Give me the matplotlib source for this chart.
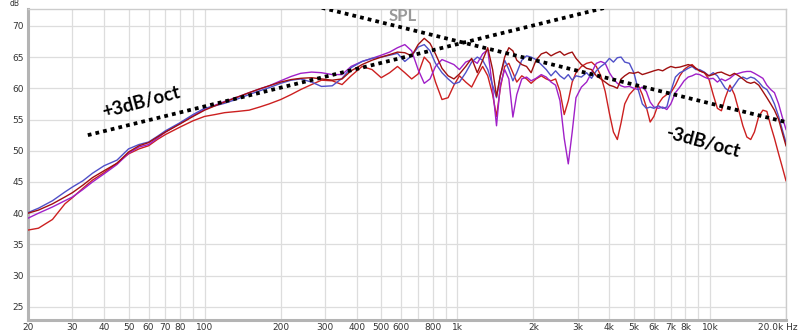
import numpy as np
import matplotlib
matplotlib.use("Agg")
import matplotlib.pyplot as plt

# frequency grid (Hz) shared by all four measurements
FREQ = [20, 22, 25, 28, 30, 33, 36, 40, 45, 50,
        55, 60, 65, 70, 80, 90, 100, 110, 120, 135,
        150, 165, 180, 200, 220, 240, 265, 290, 320, 350,
        380, 420, 460, 500, 540, 580, 620, 660, 700, 740,
        780, 820, 870, 920, 970, 1020, 1080, 1140, 1200, 1260,
        1320, 1380, 1430, 1480, 1540, 1600, 1660, 1720, 1800, 1880,
        1960, 2050, 2150, 2250, 2350, 2450, 2550, 2650, 2750, 2850,
        2950, 3100, 3250, 3400, 3550, 3700, 3850, 4000, 4150, 4300,
        4450, 4600, 4800, 5000, 5200, 5400, 5600, 5800, 6000, 6250,
        6500, 6750, 7000, 7300, 7600, 7900, 8200, 8500, 8800, 9100,
        9500, 9900, 10300, 10700, 11100, 11500, 12000, 12500, 13000, 13500,
        14000, 14500, 15000, 15600, 16200, 16800, 17400, 18000, 18700, 19300,
        20000]

BLUE = [40.1, 40.8, 42.0, 43.4, 44.2, 45.2, 46.4, 47.6, 48.5, 50.3,
        51.0, 51.4, 52.3, 53.2, 54.5, 55.8, 56.8, 57.2, 57.6, 58.3,
        59.0, 59.6, 60.1, 60.8, 61.3, 61.5, 61.0, 60.3, 60.4, 61.6,
        63.3, 64.3, 64.8, 65.0, 65.3, 65.6, 64.3, 65.2, 66.6, 67.0,
        66.0, 64.0, 62.5, 61.5, 60.7, 61.0, 62.5, 64.2, 65.0, 64.5,
        63.0, 60.5, 58.5, 62.0, 64.5, 63.0, 61.2, 62.5, 64.5, 65.2,
        65.0, 64.6, 63.8, 63.0, 62.0, 62.8, 62.0, 61.5, 62.2, 61.3,
        62.0, 61.8, 62.5, 61.6, 62.8, 63.5, 64.0, 64.8, 64.2, 64.9,
        65.0, 64.2, 64.0, 62.5, 59.8, 57.5, 56.8, 57.0, 56.8, 57.2,
        56.8, 57.0, 59.5, 61.8, 62.5, 62.8, 63.2, 63.5, 63.0, 63.0,
        62.6, 62.0, 62.5, 62.0, 61.0, 60.0, 59.5, 60.5, 61.5, 61.8,
        61.5, 61.8, 61.6, 61.0, 60.2, 59.8, 58.8, 57.5, 55.5, 53.5,
        51.3]

PURPLE = [39.2, 40.0, 41.0, 42.0, 42.6, 43.8, 45.0, 46.3, 47.8, 49.6,
          50.6, 51.0, 52.0, 53.0, 54.4, 55.6, 56.6, 57.3, 57.9, 58.6,
          59.3, 59.9, 60.4, 61.2, 61.9, 62.4, 62.6, 62.5, 62.2, 62.2,
          63.5, 64.3, 64.8, 65.3, 65.8, 66.5, 67.0, 66.0, 63.0, 60.8,
          61.5, 63.5, 64.6, 64.2, 63.8, 63.0, 64.2, 64.6, 64.0, 65.5,
          66.2, 60.0, 54.0, 60.5, 63.0, 61.5, 55.4, 59.0, 61.5, 61.8,
          61.2, 61.6, 62.2, 61.8, 61.0, 60.5, 58.0, 52.0, 47.9, 53.0,
          58.5, 60.2, 61.0, 62.5, 64.0, 64.3, 64.0, 62.5, 61.5, 60.8,
          60.4, 60.2, 60.3, 60.0, 59.8, 60.2, 59.5, 57.8, 57.0, 56.8,
          57.0, 56.6, 57.5, 59.3, 60.2, 61.2, 61.8, 62.0, 62.3, 62.2,
          61.8, 61.5, 61.6, 61.0, 61.5, 61.2, 61.6, 62.2, 62.4, 62.6,
          62.7, 62.7, 62.4, 62.0, 61.6, 60.5, 59.8, 59.3, 57.5, 55.5,
          53.4]

RED_DARK = [40.0, 40.5, 41.5, 42.6, 43.3, 44.5, 45.7, 46.8, 48.0, 49.8,
            50.8, 51.3, 52.2, 53.0, 54.3, 55.5, 56.5, 57.2, 57.8, 58.6,
            59.3, 59.9, 60.4, 61.0, 61.4, 61.6, 61.7, 61.5, 61.3, 61.5,
            62.8, 63.8, 64.5, 65.0, 65.4, 65.8, 65.7, 65.2, 67.0, 68.0,
            67.2, 65.5, 63.2, 62.0, 61.5, 62.3, 63.5, 64.8, 62.5, 64.5,
            66.5, 63.0, 58.7, 62.0, 65.0, 66.5, 66.0, 64.5, 63.8, 63.5,
            62.5, 64.5, 65.5, 65.8, 65.2, 65.6, 65.9, 65.3, 65.6, 65.8,
            64.8, 63.8, 63.2, 63.0, 62.0, 61.5, 61.0, 60.5, 60.3, 60.0,
            61.5, 62.0, 62.5, 62.4, 62.6, 62.2, 62.4, 62.6, 62.8, 63.0,
            62.8, 63.2, 63.5, 63.3, 63.4, 63.6, 63.8, 63.6, 63.2, 62.8,
            62.5, 62.0, 62.2, 62.5, 62.6, 62.3, 62.0, 62.4, 62.0, 61.5,
            61.0, 60.8, 61.0, 60.5, 59.5, 58.5, 57.5, 56.5, 55.0, 53.0,
            50.8]

RED = [37.3, 37.6, 39.0, 41.5, 42.5, 44.0, 45.3, 46.5, 48.0, 49.5,
       50.3, 50.8, 51.8, 52.6, 53.8, 54.8, 55.5, 55.8, 56.1, 56.3,
       56.5, 57.0, 57.5, 58.2, 59.0, 59.8, 60.6, 61.3, 61.2, 60.6,
       62.0, 63.5, 63.0, 61.7, 62.5, 63.5, 62.5, 61.5, 62.3, 65.0,
       64.0, 61.0, 58.2, 58.5, 60.5, 62.0, 61.0, 60.2, 62.0, 63.5,
       62.0, 59.0, 55.5, 60.0, 63.5, 64.0, 62.5, 61.0, 62.0, 61.5,
       60.8, 61.5, 62.0, 61.5, 61.2, 61.5, 59.5, 55.8, 58.0, 61.0,
       62.5, 63.5, 64.0, 64.2, 63.5, 62.0, 59.5, 56.0, 53.0, 51.8,
       54.5, 57.5, 59.0, 59.8, 60.5, 59.0, 57.0, 54.6, 55.5, 57.5,
       58.5, 59.0, 59.3, 60.5, 62.0, 63.0, 63.5, 63.8, 63.2, 62.8,
       62.5, 61.5, 59.0, 56.8, 56.4, 58.5, 60.5, 59.0, 56.5, 54.0,
       52.2, 51.8, 53.0, 55.5, 56.5, 56.3, 54.0, 52.0, 49.5, 47.5,
       45.2]

# slope guides: (start Hz, start dB, end Hz, slope dB/oct)
SLOPE_UP = (34.5, 52.5, 3840, 3.0)
SLOPE_DOWN = (291, 72.9, 20000, -3.0)

GRID_FREQ = [20, 30, 40, 50, 60, 70, 80, 90, 100, 200, 300, 400, 500, 600,
             700, 800, 900, 1000, 2000, 3000, 4000, 5000, 6000, 7000, 8000,
             9000, 10000, 20000]
GRID_LABELS = ["20", "30", "40", "50", "60", "70", "80", "", "100", "200",
               "300", "400", "500", "600", "", "800", "", "1k", "2k", "3k",
               "4k", "5k", "6k", "7k", "8k", "", "10k", ""]
DB_TICKS = [25, 30, 35, 40, 45, 50, 55, 60, 65, 70]

W, H = 800, 335
fig = plt.figure(figsize=(W / 100, H / 100), dpi=100)
ax = fig.add_axes([28 / W, 1 - 320 / H, (786 - 28) / W, (320 - 9) / H])

series = [
    (RED, "#cc2020"),
    (PURPLE, "#a020c8"),
    (BLUE, "#5050c8"),
    (RED_DARK, "#a01010"),
]
for vals, color in series:
    ax.plot(FREQ, vals, color=color, lw=1.0, zorder=3)

for f0, d0, f1, slope in (SLOPE_UP, SLOPE_DOWN):
    f = np.array([f0, f1])
    ax.plot(f, d0 + slope * np.log2(f / f0), color="black", lw=2.7,
            linestyle=(0, (1, 1.1)), zorder=4, solid_capstyle="butt")

ax.set_xscale("log")
ax.set_xlim(20, 20000)
ax.set_ylim(22.9, 72.7)
ax.set_xticks(GRID_FREQ)
ax.set_xticklabels(GRID_LABELS)
ax.minorticks_off()
ax.set_yticks(DB_TICKS)
ax.tick_params(length=0, labelsize=6.5, labelcolor="#333333")
ax.tick_params(axis="x", pad=2.5)
ax.tick_params(axis="y", pad=3)
ax.grid(True, color="#dddddd", lw=0.9, zorder=0)
for side in ("left", "bottom"):
    ax.spines[side].set_color("#b4b4b4")
    ax.spines[side].set_linewidth(2.2)
for side in ("top", "right"):
    ax.spines[side].set_color("#cccccc")
    ax.spines[side].set_linewidth(1.0)

fig.text(798 / W, 1 - 328 / H, "20.0k Hz", ha="right", va="center",
         fontsize=6.5, color="#333333")
fig.text(15 / W, 1 - 4 / H, "dB", ha="center", va="center",
         fontsize=5.5, color="#333333")
fig.text(403 / W, 1 - 16 / H, "SPL", ha="center", va="center",
         fontsize=12, fontweight="bold", color="#999999", family="Lato")

fig.text(141 / W, 1 - 102 / H, "+3dB/oct", ha="center", va="center",
         rotation=15, fontsize=13.5, fontweight="bold", family="Lato")
fig.text(703 / W, 1 - 143 / H, "-3dB/oct", ha="center", va="center",
         rotation=-15, fontsize=13.5, fontweight="bold", family="Lato")

fig.savefig("out.png", dpi=100, facecolor="white")
